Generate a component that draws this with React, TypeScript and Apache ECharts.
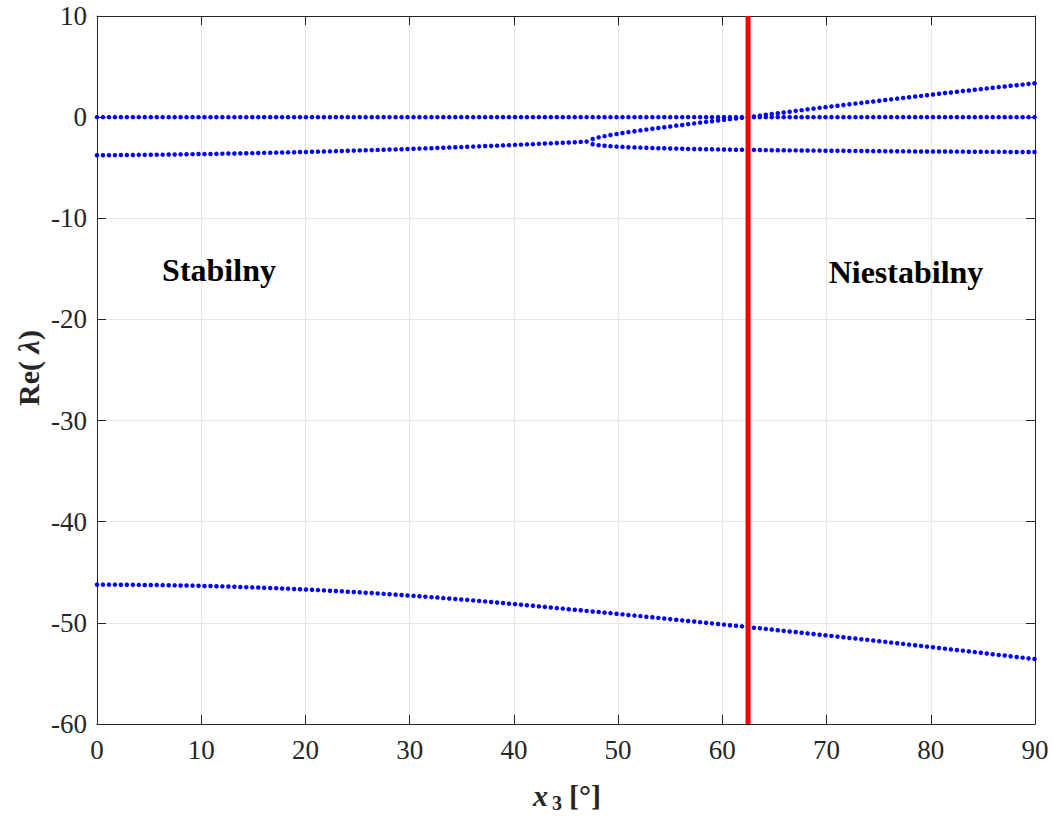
import React, { useEffect, useRef } from "react";
import * as echarts from "echarts";

// Sample positions of x3 in degrees
const x3Deg = [
  0.00, 0.57, 1.15, 1.72, 2.29, 2.86, 3.44, 4.01, 4.58, 5.16,
  5.73, 6.30, 6.88, 7.45, 8.02, 8.59, 9.17, 9.74, 10.31, 10.89,
  11.46, 12.03, 12.61, 13.18, 13.75, 14.32, 14.90, 15.47, 16.04, 16.62,
  17.19, 17.76, 18.33, 18.91, 19.48, 20.05, 20.63, 21.20, 21.77, 22.35,
  22.92, 23.49, 24.06, 24.64, 25.21, 25.78, 26.36, 26.93, 27.50, 28.07,
  28.65, 29.22, 29.79, 30.37, 30.94, 31.51, 32.09, 32.66, 33.23, 33.80,
  34.38, 34.95, 35.52, 36.10, 36.67, 37.24, 37.82, 38.39, 38.96, 39.53,
  40.11, 40.68, 41.25, 41.83, 42.40, 42.97, 43.54, 44.12, 44.69, 45.26,
  45.84, 46.41, 46.98, 47.56, 48.13, 48.70, 49.27, 49.85, 50.42, 50.99,
  51.57, 52.14, 52.71, 53.29, 53.86, 54.43, 55.00, 55.58, 56.15, 56.72,
  57.30, 57.87, 58.44, 59.01, 59.59, 60.16, 60.73, 61.31, 61.88, 62.45,
  63.03, 63.60, 64.17, 64.74, 65.32, 65.89, 66.46, 67.04, 67.61, 68.18,
  68.75, 69.33, 69.90, 70.47, 71.05, 71.62, 72.19, 72.77, 73.34, 73.91,
  74.48, 75.06, 75.63, 76.20, 76.78, 77.35, 77.92, 78.50, 79.07, 79.64,
  80.21, 80.79, 81.36, 81.93, 82.51, 83.08, 83.65, 84.22, 84.80, 85.37,
  85.94, 86.52, 87.09, 87.66, 88.24, 88.81, 89.38, 89.95,
];

// Eigenvalue that stays at zero
const reZero = [
  0, 0, 0, 0, 0, 0, 0, 0, 0, 0, 0, 0, 0, 0, 0, 0, 0, 0, 0, 0,
  0, 0, 0, 0, 0, 0, 0, 0, 0, 0, 0, 0, 0, 0, 0, 0, 0, 0, 0, 0,
  0, 0, 0, 0, 0, 0, 0, 0, 0, 0, 0, 0, 0, 0, 0, 0, 0, 0, 0, 0,
  0, 0, 0, 0, 0, 0, 0, 0, 0, 0, 0, 0, 0, 0, 0, 0, 0, 0, 0, 0,
  0, 0, 0, 0, 0, 0, 0, 0, 0, 0, 0, 0, 0, 0, 0, 0, 0, 0, 0, 0,
  0, 0, 0, 0, 0, 0, 0, 0, 0, 0, 0, 0, 0, 0, 0, 0, 0, 0, 0, 0,
  0, 0, 0, 0, 0, 0, 0, 0, 0, 0, 0, 0, 0, 0, 0, 0, 0, 0, 0, 0,
  0, 0, 0, 0, 0, 0, 0, 0, 0, 0, 0, 0, 0, 0, 0, 0, 0, 0,
];

// Fast (most negative) eigenvalue
const reBottom = [
  -46.22, -46.22, -46.22, -46.22, -46.23, -46.23, -46.23, -46.24, -46.25, -46.25,
  -46.26, -46.27, -46.28, -46.29, -46.30, -46.31, -46.32, -46.33, -46.35, -46.36,
  -46.38, -46.39, -46.41, -46.43, -46.45, -46.47, -46.49, -46.51, -46.53, -46.55,
  -46.57, -46.60, -46.62, -46.65, -46.68, -46.70, -46.73, -46.76, -46.79, -46.82,
  -46.85, -46.88, -46.92, -46.95, -46.98, -47.02, -47.05, -47.09, -47.13, -47.17,
  -47.21, -47.24, -47.29, -47.33, -47.37, -47.41, -47.46, -47.50, -47.55, -47.59,
  -47.64, -47.69, -47.73, -47.78, -47.83, -47.88, -47.94, -47.99, -48.04, -48.10,
  -48.15, -48.20, -48.26, -48.31, -48.37, -48.42, -48.48, -48.54, -48.59, -48.65,
  -48.70, -48.76, -48.82, -48.87, -48.93, -48.99, -49.04, -49.10, -49.16, -49.22,
  -49.28, -49.33, -49.39, -49.45, -49.51, -49.57, -49.63, -49.69, -49.75, -49.81,
  -49.87, -49.93, -49.99, -50.05, -50.11, -50.17, -50.23, -50.29, -50.35, -50.41,
  -50.48, -50.54, -50.60, -50.66, -50.73, -50.79, -50.85, -50.91, -50.98, -51.04,
  -51.10, -51.17, -51.23, -51.29, -51.36, -51.42, -51.49, -51.55, -51.62, -51.68,
  -51.75, -51.81, -51.88, -51.95, -52.01, -52.08, -52.15, -52.21, -52.28, -52.35,
  -52.41, -52.48, -52.55, -52.62, -52.68, -52.75, -52.82, -52.89, -52.96, -53.03,
  -53.10, -53.17, -53.23, -53.30, -53.37, -53.44, -53.51, -53.58,
];

// Complex-conjugate pair (common real part) before the split
const rePair = [
  -3.77, -3.77, -3.76, -3.76, -3.75, -3.75, -3.74, -3.73, -3.73, -3.72,
  -3.71, -3.71, -3.70, -3.69, -3.68, -3.67, -3.66, -3.65, -3.65, -3.64,
  -3.63, -3.61, -3.60, -3.59, -3.58, -3.57, -3.56, -3.55, -3.53, -3.52,
  -3.51, -3.49, -3.48, -3.47, -3.45, -3.44, -3.42, -3.41, -3.39, -3.38,
  -3.36, -3.35, -3.33, -3.31, -3.29, -3.28, -3.26, -3.24, -3.22, -3.20,
  -3.19, -3.17, -3.15, -3.13, -3.11, -3.09, -3.07, -3.04, -3.02, -3.00,
  -2.98, -2.96, -2.93, -2.91, -2.89, -2.86, -2.84, -2.82, -2.79, -2.77,
  -2.74, -2.72, -2.69, -2.67, -2.64, -2.61, -2.59, -2.56, -2.53, -2.51,
  -2.48, -2.45, -2.42,
];

// Real branches after the split
const reUpper = [
  -2.16, -2.00, -1.88, -1.77, -1.67, -1.57, -1.48, -1.39, -1.31, -1.23,
  -1.15, -1.08, -1.00, -0.92, -0.84, -0.77, -0.69, -0.62, -0.54, -0.47,
  -0.40, -0.33, -0.27, -0.20, -0.14, -0.07, -0.01, 0.07, 0.15, 0.23,
  0.31, 0.39, 0.46, 0.54, 0.62, 0.69, 0.77, 0.84, 0.92, 0.99,
  1.06, 1.13, 1.20, 1.27, 1.34, 1.41, 1.48, 1.55, 1.62, 1.69,
  1.76, 1.83, 1.90, 1.97, 2.04, 2.10, 2.17, 2.24, 2.31, 2.38,
  2.44, 2.51, 2.58, 2.64, 2.71, 2.77, 2.84, 2.90, 2.97, 3.03,
  3.10, 3.16, 3.22, 3.29, 3.35,
];

const reLower = [
  -2.68, -2.77, -2.83, -2.87, -2.91, -2.94, -2.97, -2.99, -3.01, -3.03,
  -3.05, -3.07, -3.08, -3.10, -3.11, -3.13, -3.14, -3.15, -3.16, -3.17,
  -3.18, -3.19, -3.20, -3.21, -3.22, -3.23, -3.24, -3.24, -3.25, -3.26,
  -3.27, -3.27, -3.28, -3.29, -3.29, -3.30, -3.30, -3.31, -3.31, -3.32,
  -3.32, -3.33, -3.33, -3.34, -3.34, -3.35, -3.35, -3.36, -3.36, -3.37,
  -3.37, -3.37, -3.38, -3.38, -3.39, -3.39, -3.39, -3.40, -3.40, -3.40,
  -3.41, -3.41, -3.41, -3.42, -3.42, -3.42, -3.43, -3.43, -3.43, -3.43,
  -3.44, -3.44, -3.44, -3.44, -3.45,
];

const stabilityBoundaryDeg = 62.47;
const xRange = [0, 90];
const yRange = [-60, 10];
const regionLabels = ["Stabilny", "Niestabilny"];

const FONT = "'Liberation Serif', 'Times New Roman', Times, serif";
const AX = "#262626";

function zip(xs: number[], ys: number[]) {
  return ys.map((y, i) => [xs[i], y]);
}

export default function App() {
  const ref = useRef<HTMLDivElement>(null);
  useEffect(() => {
    if (!ref.current) return;
    const chart = echarts.init(ref.current, null, { renderer: "svg" });
    const split = rePair.length;
    const dot = (name: string, data: number[][]) => ({
      name,
      type: "scatter",
      data,
      symbol: "circle",
      symbolSize: 4.5,
      itemStyle: { color: "#0000ff", opacity: 1 },
      z: 3,
      silent: true,
    });
    const baseAxis = {
      type: "value",
      axisLine: { show: true, onZero: false, lineStyle: { color: AX, width: 1 } },
      axisTick: { show: true, inside: true, length: 9, lineStyle: { color: AX, width: 1 } },
    };
    chart.setOption({
      animation: false,
      backgroundColor: "#ffffff",
      grid: { left: 97, top: 16, width: 938, height: 708, containLabel: false },
      xAxis: [
        {
          ...baseAxis,
          position: "bottom",
          min: xRange[0],
          max: xRange[1],
          interval: 10,
          axisLabel: { color: AX, fontSize: 27, fontFamily: FONT, margin: 12 },
          splitLine: { show: true, lineStyle: { color: "#e6e6e6", width: 1 } },
        },
        {
          ...baseAxis,
          position: "top",
          min: xRange[0],
          max: xRange[1],
          interval: 10,
          axisLabel: { show: false },
          splitLine: { show: false },
        },
      ],
      yAxis: [
        {
          ...baseAxis,
          position: "left",
          min: yRange[0],
          max: yRange[1],
          interval: 10,
          axisLabel: { color: AX, fontSize: 27, fontFamily: FONT, margin: 10 },
          splitLine: { show: true, lineStyle: { color: "#e6e6e6", width: 1 } },
        },
        {
          ...baseAxis,
          position: "right",
          min: yRange[0],
          max: yRange[1],
          interval: 10,
          axisLabel: { show: false },
          splitLine: { show: false },
        },
      ],
      series: [
        dot("zero", zip(x3Deg, reZero)),
        dot("fast", zip(x3Deg, reBottom)),
        dot("pair", zip(x3Deg.slice(0, split), rePair)),
        dot("upper", zip(x3Deg.slice(split), reUpper)),
        dot("lower", zip(x3Deg.slice(split), reLower)),
        {
          name: "boundary",
          type: "line",
          data: [
            [stabilityBoundaryDeg, yRange[0]],
            [stabilityBoundaryDeg, yRange[1]],
          ],
          symbol: "none",
          lineStyle: { color: "#ff0000", width: 5 },
          z: 5,
          silent: true,
        },
      ],
      graphic: [
        {
          type: "text",
          x: 219,
          y: 270,
          style: {
            text: regionLabels[0],
            fontFamily: FONT,
            fontWeight: "bold",
            fontSize: 32,
            fill: "#000",
            align: "center",
            verticalAlign: "middle",
          },
          z: 10,
        },
        {
          type: "text",
          x: 906,
          y: 272,
          style: {
            text: regionLabels[1],
            fontFamily: FONT,
            fontWeight: "bold",
            fontSize: 32,
            fill: "#000",
            align: "center",
            verticalAlign: "middle",
          },
          z: 10,
        },
        {
          type: "text",
          x: 28,
          y: 368,
          rotation: Math.PI / 2,
          style: {
            text: "{a|Re( }{b|λ}{a|)}",
            fontFamily: FONT,
            fontWeight: "bold",
            fontSize: 30,
            fill: AX,
            align: "center",
            verticalAlign: "middle",
            rich: {
              a: { fontFamily: FONT, fontWeight: "bold", fontSize: 30, fill: AX, color: AX },
              b: { fontFamily: FONT, fontWeight: "bold", fontStyle: "italic", fontSize: 30, fill: AX, color: AX },
            },
          },
        },
        {
          type: "text",
          x: 533,
          y: 795,
          style: {
            text: "x",
            fontFamily: FONT,
            fontWeight: "bold",
            fontStyle: "italic",
            fontSize: 30,
            fill: AX,
            align: "left",
            verticalAlign: "middle",
          },
        },
        {
          type: "text",
          x: 552,
          y: 803,
          style: {
            text: "3",
            fontFamily: FONT,
            fontWeight: "bold",
            fontSize: 20,
            fill: AX,
            align: "left",
            verticalAlign: "middle",
          },
        },
        {
          type: "text",
          x: 569,
          y: 795,
          style: {
            text: "[°]",
            fontFamily: FONT,
            fontWeight: "bold",
            fontSize: 30,
            fill: AX,
            align: "left",
            verticalAlign: "middle",
          },
        },
      ],
    });
    return () => chart.dispose();
  }, []);
  return (
    <div
      ref={ref}
      style={{ position: "absolute", left: 0, top: 0, width: 1053, height: 816, background: "#fff" }}
    />
  );
}
